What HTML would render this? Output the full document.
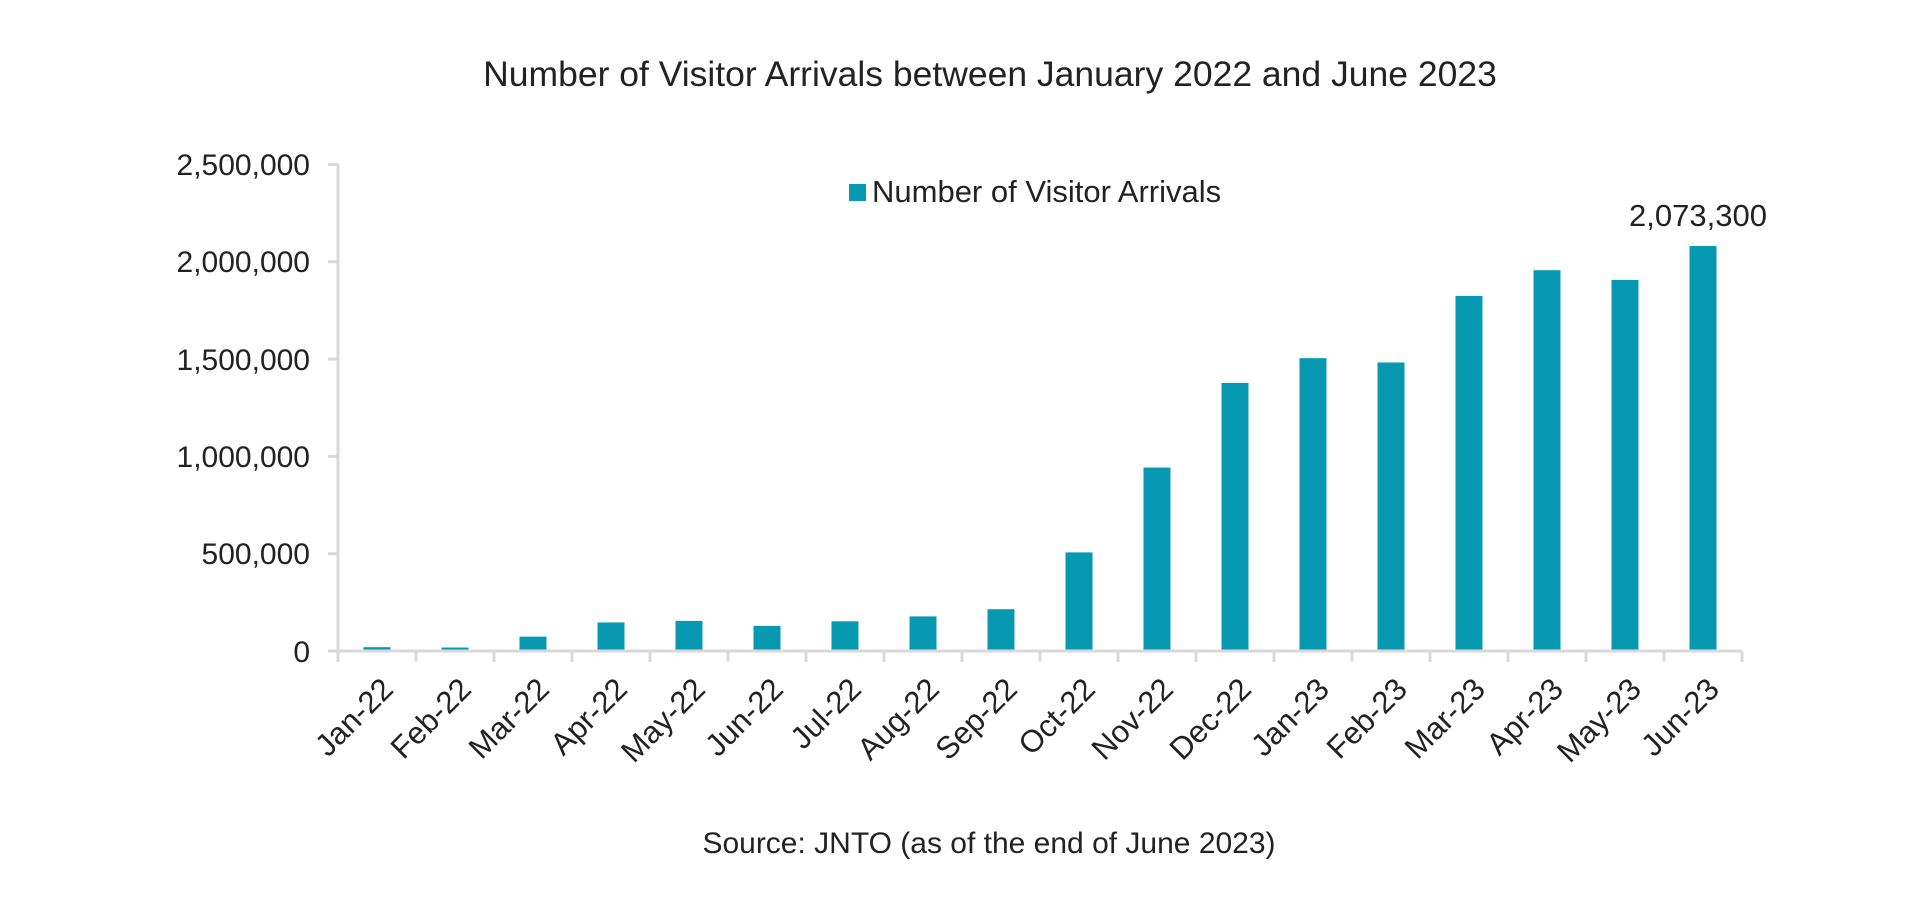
<!DOCTYPE html>
<html><head><meta charset="utf-8"><style>body{margin:0;background:#fff}svg{display:block}</style></head>
<body>
<svg width="1920" height="902" xmlns="http://www.w3.org/2000/svg" font-family="Liberation Sans, sans-serif" fill="#222">
<text x="990" y="86" font-size="35.5" text-anchor="middle">Number of Visitor Arrivals between January 2022 and June 2023</text>
<g font-size="30" text-anchor="end">
<text x="310" y="175">2,500,000</text>
<text x="310" y="272">2,000,000</text>
<text x="310" y="370">1,500,000</text>
<text x="310" y="467">1,000,000</text>
<text x="310" y="564">500,000</text>
<text x="310" y="662">0</text>
</g>
<g stroke="#d9d9d9" stroke-width="3" fill="none">
<path d="M338 164V662M328 164.5H338M328 261.8H338M328 359.1H338M328 456.4H338M328 553.7H338M328 651H1742.4"/>
<path d="M338 651v11M416 651v11M494 651v11M572 651v11M650 651v11M728 651v11M806 651v11M884 651v11M962 651v11M1040 651v11M1118 651v11M1196 651v11M1274 651v11M1352 651v11M1430 651v11M1508 651v11M1586 651v11M1664 651v11M1742 651v11"/>
</g>
<g fill="#0899b2" id="bars"></g>
<rect x="849" y="184" width="17" height="17" fill="#0899b2"/>
<text x="872" y="202" font-size="31">Number of Visitor Arrivals</text>
<text x="1698" y="226" font-size="31" text-anchor="middle">2,073,300</text>
<g font-size="31" text-anchor="end" id="xl"></g>
<text x="989" y="853" font-size="30" text-anchor="middle">Source: JNTO (as of the end of June 2023)</text>
<script>
var v=[12e3,10e3,66e3,139e3,147e3,121e3,145e3,170e3,207e3,499e3,935e3,1370e3,1497e3,1475e3,1817e3,1949e3,1899e3,2073300];
var n=["Jan-22","Feb-22","Mar-22","Apr-22","May-22","Jun-22","Jul-22","Aug-22","Sep-22","Oct-22","Nov-22","Dec-22","Jan-23","Feb-23","Mar-23","Apr-23","May-23","Jun-23"];
var ns="http://www.w3.org/2000/svg",b=document.getElementById("bars"),xl=document.getElementById("xl");
for(var i=0;i<18;i++){var c=338+78*i+39,h=v[i]/2.5e6*486.5;
var r=document.createElementNS(ns,"rect");r.setAttribute("x",c-13.5);r.setAttribute("y",649.5-h);r.setAttribute("width",27);r.setAttribute("height",h);b.appendChild(r);
var t=document.createElementNS(ns,"text");t.setAttribute("transform","translate("+(c+18)+",691) rotate(-45)");t.textContent=n[i];xl.appendChild(t);}
</script>
</svg>
</body></html>
